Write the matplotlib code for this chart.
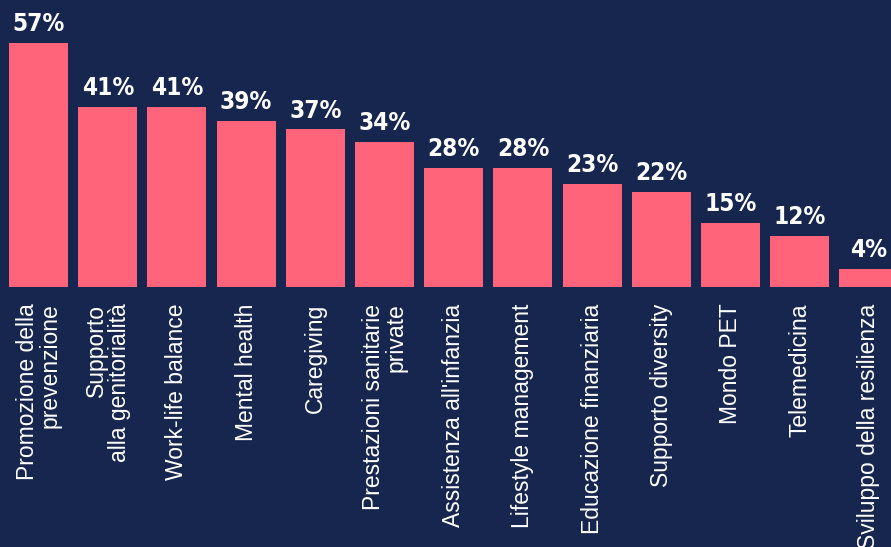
import matplotlib.pyplot as plt
from matplotlib import font_manager

CATEGORIES = [
    "Promozione della\nprevenzione",
    "Supporto\nalla genitorialità",
    "Work-life balance",
    "Mental health",
    "Caregiving",
    "Prestazioni sanitarie\nprivate",
    "Assistenza all'infanzia",
    "Lifestyle management",
    "Educazione finanziaria",
    "Supporto diversity",
    "Mondo PET",
    "Telemedicina",
    "Sviluppo della resilienza",
]
# bar heights as drawn in the picture, and the labels printed on top
HEIGHTS = [57.0, 42.1, 42.1, 38.7, 36.8, 33.9, 27.7, 27.7, 24.1, 22.1, 15.0, 11.9, 4.2]
LABELS = ["57%", "41%", "41%", "39%", "37%", "34%", "28%", "28%", "23%", "22%",
          "15%", "12%", "4%"]

BG = "#17264e"
BAR = "#ff647a"

names = {f.name for f in font_manager.fontManager.ttflist}
value_family = [f for f in ["Liberation Sans Narrow", "DejaVu Sans"] if f in names]

W, H = 891, 547
fig = plt.figure(figsize=(W / 100, H / 100), dpi=100, facecolor=BG)
base = 287  # pixel row of bar baseline
ax = fig.add_axes([0, (H - base) / H, 1, base / H])
ax.set_facecolor(BG)

pitch = 69.2
x = list(range(len(HEIGHTS)))
ax.bar(x, HEIGHTS, width=0.853, color=BAR)
ax.set_xlim(-38.5 / pitch, -38.5 / pitch + W / pitch)
ax.set_ylim(0, base / 4.28)
ax.axis("off")

for xi, h, lab in zip(x, HEIGHTS, LABELS):
    ax.annotate(lab, (xi, h), xytext=(0, 5), textcoords="offset points",
                ha="center", va="bottom", color="white", fontsize=17.5,
                fontweight="bold", family=value_family, fontstretch="condensed")

for xi, label in zip(x, CATEGORIES):
    ax.annotate(label, (xi, 0), xytext=(0, -12), textcoords="offset points",
                ha="center", va="top", rotation=90, multialignment="right",
                color="white", fontsize=16.5, family="Liberation Sans",
                linespacing=1.0, annotation_clip=False)

fig.savefig("out.png", dpi=100, facecolor=BG)
